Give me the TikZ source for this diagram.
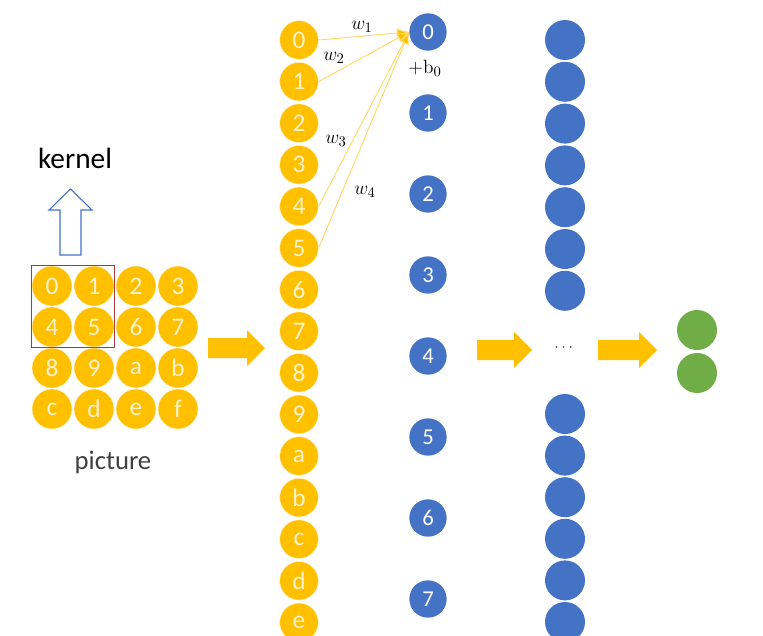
\documentclass[tikz,border=0pt]{standalone}
\usepackage[no-math]{fontspec}
\usepackage{amsmath}
\setmainfont{Carlito}
\usetikzlibrary{arrows.meta}

\definecolor{goldy}{HTML}{FFC000}
\definecolor{paley}{HTML}{FFD966}
\definecolor{creamy}{HTML}{FFF2CC}
\definecolor{bluey}{HTML}{4472C4}
\definecolor{greeny}{HTML}{70AD47}
\definecolor{boxred}{HTML}{A8383A}

\tikzset{
  pix/.style = {circle, fill=goldy, draw=creamy, line width=0.4pt, inner sep=0pt,
                text=creamy, font=\fontsize{19}{19}\selectfont},
  cell/.style = {pix, minimum size=30pt},
  flat/.style = {pix, minimum size=29pt},
  hid/.style = {circle, fill=bluey, inner sep=0pt, minimum size=28pt,
                text=white, font=\fontsize{17}{17}\selectfont},
  deep/.style = {circle, fill=bluey, inner sep=0pt, minimum size=30pt},
  outp/.style = {circle, fill=greeny, inner sep=0pt, minimum size=30pt},
  weight/.style = {paley, line width=0.7pt, -{Latex[length=9pt,width=7pt,fill=goldy]}},
  wlab/.style = {font=\fontsize{15}{15}\selectfont}
}

\begin{document}
\begin{tikzpicture}[x=0.75pt, y=-0.75pt]
\useasboundingbox (0,0) rectangle (763,635);

% picture grid
\foreach \l [count=\i from 0] in {0,1,2,3,4,5,6,7,8,9,a,b,c,d,e,f} {
  \pgfmathtruncatemacro{\cx}{mod(\i,4)}
  \pgfmathtruncatemacro{\ry}{int(\i/4)}
  \node[cell] (g\l) at (52+42*\cx, 286+41*\ry) {\l};
}
\draw[boxred, line width=0.9pt] (g0.west |- g0.north) rectangle (g5.east |- g5.south);
\node[text=black!75, font=\fontsize{20}{20}\selectfont] (pic) at (113,462) {picture};

% kernel arrow
\draw[bluey, line width=0.8pt] (60,255) -- (60,210) -- (49,210) -- (70.5,189)
  -- (92,210) -- (81,210) -- (81,255) -- cycle;
\node[font=\fontsize{22}{22}\selectfont] (kern) at (75,158) {kernel};

% flattened input
\foreach \l [count=\i from 0] in {0,1,2,3,4,5,6,7,8,9,a,b,c,d,e} {
  \node[flat] (y\l) at (299, 40+41.6*\i) {\l};
}

% first hidden layer
\foreach \i in {0,...,7} {
  \node[hid] (b\i) at (428, 32+81*\i) {\i};
}

% weights into b0
\draw[weight] (y0.east) -- (b0.west);
\draw[weight] (y1.east) -- (b0.west);
\draw[weight] (y4.east) -- (b0.west);
\draw[weight] (y5.east) -- (b0.west);
\node[wlab] (w1) at (362,27) {$w_1$};
\node[wlab] (w2) at (334,58) {$w_2$};
\node[wlab] (w3) at (336,141) {$w_3$};
\node[wlab] (w4) at (365,192) {$w_4$};
\node[wlab] (bias) at (425,68) {$+\mathrm{b}_0$};

% deeper layer
\foreach \i in {1,...,7} {
  \node[deep] (n\i) at (565, {40+41.8*(\i-1)}) {};
}
\foreach \i in {1,...,6} {
  \node[deep] (m\i) at (565, {414+41.6*(\i-1)}) {};
}
\node[text=black!85, font=\fontsize{12}{12}\selectfont] (dots) at (565,348) {$\cdots$};

% output
\node[outp] (o1) at (697,330) {};
\node[outp] (o2) at (697,373) {};

% block arrows
\foreach \xa/\xb/\yc in {208/265/348, 477/532/350, 598/657/350} {
  \fill[goldy] (\xa,\yc-10) -- (\xb-18,\yc-10) -- (\xb-18,\yc-18) -- (\xb,\yc)
    -- (\xb-18,\yc+18) -- (\xb-18,\yc+10) -- (\xa,\yc+10) -- cycle;
}
\end{tikzpicture}
\end{document}
